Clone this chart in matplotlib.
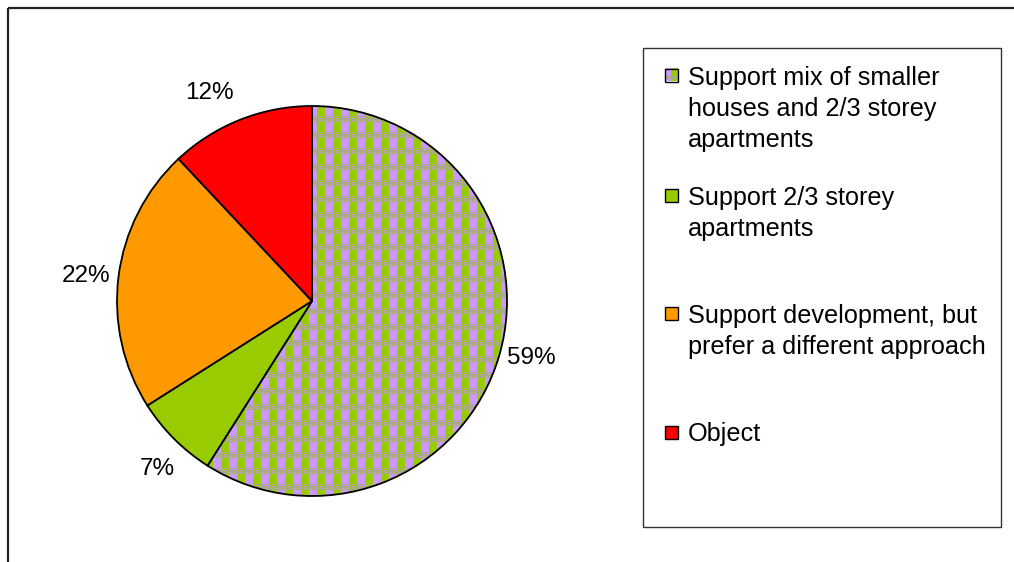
import numpy as np
import matplotlib.pyplot as plt
from matplotlib.patches import Rectangle

plt.rcParams['font.family'] = ['Liberation Sans', 'DejaVu Sans']

# share of responses, clockwise from 12 o'clock
labels = ['Support mix of smaller\nhouses and 2/3 storey\napartments',
          'Support 2/3 storey\napartments',
          'Support development, but\nprefer a different approach',
          'Object']
shares = [59, 7, 22, 12]
colors = ['none', '#99CC00', '#FF9900', '#FF0000']

W, H = 1014, 562
cx, cy, R = 312, 301, 195   # pie centre / radius in pixels (from top)
FS_LEG = 18.2
FS_PCT = 17.5


def up(y):
    return H - y


def checker_tile():
    lav = np.array([0xCC, 0x99, 0xFF]) / 255
    grn = np.array([0x99, 0xCC, 0x00]) / 255
    gry = np.array([0xAA, 0xAA, 0x88]) / 255
    tile = np.zeros((16, 16, 3))
    for r in range(16):
        for c in range(16):
            base = lav if c < 8 else grn
            if r >= 10:
                # grey band with fine dots of the column colour
                tile[r, c] = base if (r + c) % 2 == 0 and r in (11, 14) else gry
            else:
                tile[r, c] = base
    return tile


fig = plt.figure(figsize=(W / 100, H / 100), dpi=100)
ax = fig.add_axes([0, 0, 1, 1])

wedges, texts, autotexts = ax.pie(
    shares, colors=colors, startangle=90, counterclock=False,
    center=(cx, up(cy)), radius=R, pctdistance=1.04,
    autopct=lambda p: '%d%%' % round(p),
    wedgeprops=dict(edgecolor='black', linewidth=1.3),
    textprops=dict(fontsize=FS_PCT))

# push the percentage labels outside the rim, anchored on the near side
for w, t in zip(wedges, autotexts):
    ang = np.deg2rad((w.theta1 + w.theta2) / 2)
    c, s = np.cos(ang), np.sin(ang)
    t.set_ha('center' if abs(c) < 0.3 else ('left' if c > 0 else 'right'))
    t.set_va('center' if abs(s) < 0.3 else ('bottom' if s > 0 else 'top'))
    x, y = t.get_position()
    if abs(c) > 0.3 and s > 0.6:
        t.set_position((x - 4, y + 8))
    elif abs(c) > 0.3 and s < -0.6:
        t.set_position((x + 6, y - 14))

# patterned fill for the first slice
tile = checker_tile()
n = int(2 * R / 16) + 2
pattern = np.tile(tile, (n, n, 1))
img = ax.imshow(pattern, interpolation='nearest',
                extent=(cx - R, cx - R + n * 16, up(cy - R + n * 16), up(cy - R)),
                zorder=0.5)
img.set_clip_path(wedges[0])
for w in wedges:
    w.set_zorder(1.5)

ax.set_xlim(0, W)
ax.set_ylim(0, H)
ax.set_aspect('auto')
ax.axis('off')

# chart area border (top and left edges)
ax.plot([8, W], [up(8), up(8)], color='#222222', lw=1.6, solid_capstyle='butt')
ax.plot([8, 8], [up(8), 0], color='#222222', lw=1.6, solid_capstyle='butt')

# legend box
ax.add_patch(Rectangle((643, up(527)), 1001 - 643, 527 - 48, fill=False,
                       edgecolor='#333333', lw=1.0))

entry_mid = [75, 195, 313, 432]
line_step = 31.5
for i, (lab, col) in enumerate(zip(labels, colors)):
    ym = entry_mid[i]
    box = (665, up(ym + 6.5))
    if i == 0:
        ax.imshow(tile[::2, ::2], interpolation='nearest',
                  extent=(665, 678, up(ym + 6.5), up(ym - 6.5)), zorder=2)
        ax.add_patch(Rectangle(box, 13, 13, fill=False,
                               edgecolor='black', lw=1.0, zorder=3))
    else:
        ax.add_patch(Rectangle(box, 13, 13, facecolor=col,
                               edgecolor='black', lw=1.0, zorder=3))
    for k, line in enumerate(lab.split('\n')):
        ax.text(688, up(ym + 9.5 + k * line_step), line, fontsize=FS_LEG,
                va='baseline', ha='left')

fig.savefig('out.png', dpi=100)
